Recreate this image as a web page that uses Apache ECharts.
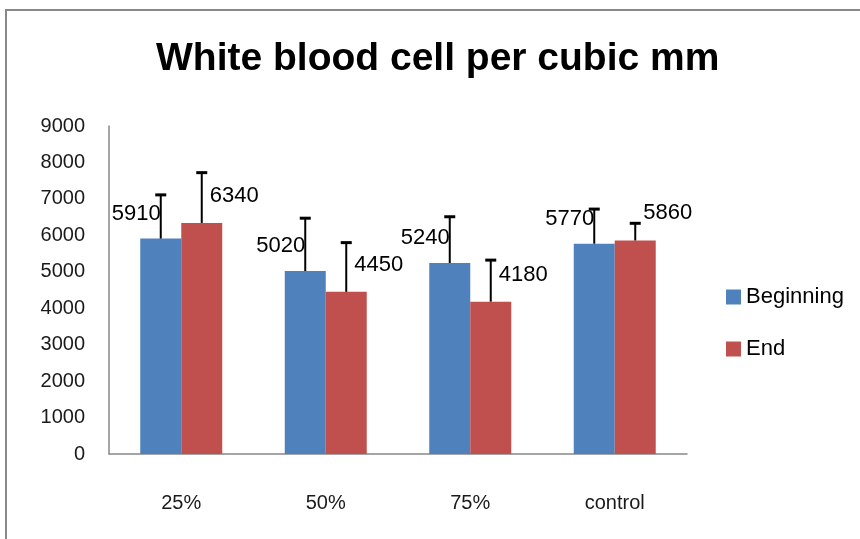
<!DOCTYPE html>
<html>
<head>
<meta charset="utf-8">
<title>White blood cell per cubic mm</title>
<script src="https://cdn.jsdelivr.net/npm/echarts@6/dist/echarts.min.js"></script>
<style>
  html, body {
    margin: 0;
    padding: 0;
    background: #fff;
  }
  #chart {
    width: 860px;
    height: 539px;
  }
</style>
</head>
<body>
<div id="chart"></div>
<script>
/* 数据 */
var categories = ["25%", "50%", "75%", "control"];
var beginning = [5910, 5020, 5240, 5770];
var end = [6340, 4450, 4180, 5860];
/* 误差线（只向上） */
var beginningErr = [1200, 1450, 1270, 950];
var endErr = [1380, 1350, 1140, 470];
var yTicks = { min: 0, max: 9000, interval: 1000 };

var fontName = "Liberation Sans";
var barWidth = 41;

/* 误差线数据: [类目序号, 值, 值+误差] */
function errData(values, errs) {
  var out = [];
  values.map(function (v, i) {
    out.push([i, v, v + errs[i]]);
  });
  return out;
}

/* 画误差线, side = -1 左边柱子, 1 右边柱子 */
function errRender(side) {
  return function (params, api) {
    var x = api.coord([api.value(0), api.value(1)])[0] + (side * barWidth) / 2;
    var low = api.coord([api.value(0), api.value(1)])[1];
    var high = api.coord([api.value(0), api.value(2)])[1];
    var capHalf = 5.5;
    return {
      type: "group",
      children: [
        {
          type: "line",
          shape: { x1: x, y1: low, x2: x, y2: high },
          style: { stroke: "#000", lineWidth: 2 },
        },
        {
          type: "line",
          shape: { x1: x - capHalf, y1: high, x2: x + capHalf, y2: high },
          style: { stroke: "#000", lineWidth: 3 },
        },
      ],
    };
  };
}

var myChart = echarts.init(document.getElementById("chart"));

var option = {
  animation: false,
  backgroundColor: "#fff",
  title: {
    text: "White blood cell per cubic mm",
    left: 156,
    top: 40,
    padding: 0,
    textStyle: {
      color: "#000",
      fontFamily: fontName,
      fontWeight: "bold",
      fontSize: 39,
    },
  },
  legend: {
    orient: "vertical",
    left: 726,
    top: 286,
    itemWidth: 15,
    itemHeight: 15,
    itemGap: 30,
    icon: "rect",
    padding: 0,
    data: ["Beginning", "End"],
    textStyle: {
      color: "#000",
      fontFamily: fontName,
      fontSize: 22,
    },
  },
  graphic: [
    // 外框
    {
      type: "line",
      shape: { x1: 5, y1: 10, x2: 860, y2: 10 },
      style: { stroke: "#888", lineWidth: 2 },
    },
    {
      type: "line",
      shape: { x1: 6, y1: 10, x2: 6, y2: 539 },
      style: { stroke: "#888", lineWidth: 2 },
    },
  ],
  grid: {
    left: 109,
    right: 173,
    top: 126,
    bottom: 85,
  },
  xAxis: {
    type: "category",
    data: categories,
    axisLine: { lineStyle: { color: "#888", width: 1.5 } },
    axisTick: { show: false },
    axisLabel: {
      color: "#1a1a1a",
      fontFamily: fontName,
      fontSize: 20,
      margin: 39,
    },
  },
  yAxis: {
    type: "value",
    min: yTicks.min,
    max: yTicks.max,
    interval: yTicks.interval,
    splitLine: { show: false },
    axisLine: { show: true, lineStyle: { color: "#888", width: 1.5 } },
    axisTick: { show: false },
    axisLabel: {
      color: "#1a1a1a",
      fontFamily: fontName,
      fontSize: 20,
      margin: 24,
      formatter: function (value) {
        return String(value);
      },
    },
  },
  series: [
    {
      name: "Beginning",
      type: "bar",
      data: beginning,
      barWidth: barWidth,
      barGap: "0%",
      itemStyle: { color: "#4F81BD" },
      label: {
        show: true,
        position: "top",
        distance: 14,
        align: "right",
        offset: [0, 0],
        color: "#000",
        fontFamily: fontName,
        fontSize: 22,
      },
    },
    {
      name: "End",
      type: "bar",
      data: end,
      barWidth: barWidth,
      barGap: "0%",
      itemStyle: { color: "#C0504D" },
      label: {
        show: true,
        position: "top",
        distance: 16,
        align: "left",
        offset: [8, 0],
        color: "#000",
        fontFamily: fontName,
        fontSize: 22,
      },
    },
    {
      type: "custom",
      renderItem: errRender(-1),
      data: errData(beginning, beginningErr),
      encode: { x: 0, y: [1, 2] },
      z: 5,
      silent: true,
    },
    {
      type: "custom",
      renderItem: errRender(1),
      data: errData(end, endErr),
      encode: { x: 0, y: [1, 2] },
      z: 5,
      silent: true,
    },
  ],
};

myChart.setOption(option);
window.addEventListener("resize", function () {
  myChart.resize();
});
</script>
</body>
</html>
